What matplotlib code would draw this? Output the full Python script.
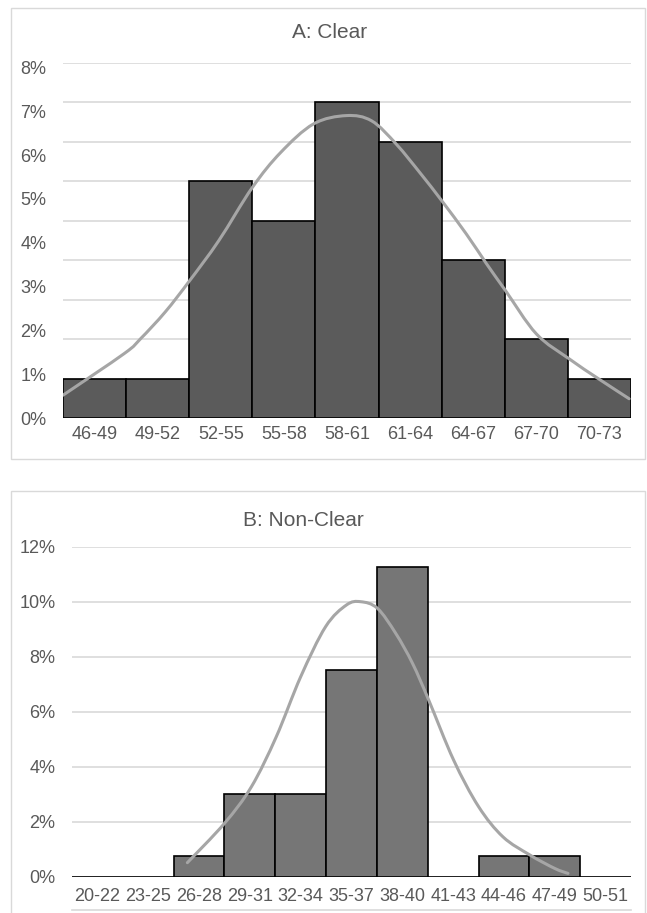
import matplotlib
matplotlib.use("Agg")
import matplotlib.pyplot as plt
from matplotlib.patches import Rectangle, PathPatch
from matplotlib.path import Path

plt.rcParams['font.family'] = ['Liberation Sans', 'DejaVu Sans']

# ---------------- data ----------------
cats_a = ["46-49", "49-52", "52-55", "55-58", "58-61", "61-64", "64-67", "67-70", "70-73"]
vals_a = [0.9, 0.9, 5.4, 4.5, 7.2, 6.3, 3.6, 1.8, 0.9]          # percent
curve_a_x = [-0.5, 0.47, 0.73, 1.12, 1.51, 1.97, 2.50, 2.95, 3.47,
             3.99, 4.39, 4.78, 5.17, 5.50, 5.89, 6.21, 6.51, 7.0, 7.52, 7.98, 8.47]
curve_a_y = [0.52, 1.47, 1.81, 2.42, 3.14, 4.05, 5.26, 6.06, 6.71,
             6.90, 6.78, 6.25, 5.57, 4.96, 4.20, 3.52, 2.91, 1.92, 1.35, 0.90, 0.44]
yticks_a = [0, 1, 2, 3, 4, 5, 6, 7, 8]

cats_b = ["20-22", "23-25", "26-28", "29-31", "32-34", "35-37", "38-40",
          "41-43", "44-46", "47-49", "50-51"]
vals_b = [0, 0, 0.75, 3.0, 3.0, 7.5, 11.25, 0, 0.75, 0.75, 0]     # percent
curve_b_x = [1.77, 2.50, 3.03, 3.52, 4.00, 4.49, 4.90, 5.18, 5.51, 5.87,
             6.20, 6.52, 7.01, 7.50, 7.98, 8.51, 9.00, 9.26]
curve_b_y = [0.51, 1.94, 3.27, 5.09, 7.27, 9.09, 9.88, 10.0, 9.76, 8.85,
             7.76, 6.42, 4.24, 2.55, 1.45, 0.79, 0.30, 0.12]
yticks_b = [0, 2, 4, 6, 8, 10, 12]

W, H = 647, 913
fig = plt.figure(figsize=(W / 100, H / 100), dpi=100)

TXT = "#595959"
GRID = "#d9d9d9"
CURVE = "#a6a6a6"


def px_axes(left, right, top, bottom):
    return fig.add_axes([left / W, (H - bottom) / H, (right - left) / W, (bottom - top) / H])


def smooth_line(ax, xs, ys, **kw):
    """Draw a smooth (Catmull-Rom style Bezier) line through the given points."""
    pts = list(zip(xs, ys))
    n = len(pts)
    verts = [pts[0]]
    codes = [Path.MOVETO]
    for i in range(n - 1):
        p0 = pts[i - 1] if i > 0 else pts[i]
        p1 = pts[i]
        p2 = pts[i + 1]
        p3 = pts[i + 2] if i + 2 < n else pts[i + 1]
        c1 = (p1[0] + (p2[0] - p0[0]) / 6, p1[1] + (p2[1] - p0[1]) / 6)
        c2 = (p2[0] - (p3[0] - p1[0]) / 6, p2[1] - (p3[1] - p1[1]) / 6)
        verts += [c1, c2, p2]
        codes += [Path.CURVE4, Path.CURVE4, Path.CURVE4]
    patch = PathPatch(Path(verts, codes), fill=False, **kw)
    ax.add_patch(patch)


# chart frames
fig.patches.append(Rectangle((11 / W, (H - 459) / H), (645 - 11) / W, (459 - 8) / H,
                             transform=fig.transFigure, fill=False, edgecolor=GRID, lw=1))
fig.patches.append(Rectangle((11 / W, (H - 920) / H), (645 - 11) / W, (920 - 491) / H,
                             transform=fig.transFigure, fill=False, edgecolor=GRID, lw=1))

# ---------------- panel A ----------------
axA = px_axes(63, 631, 63, 418)
xa = list(range(len(cats_a)))
for k in range(1, 10):
    axA.axhline(0.9 * k, color=GRID, lw=1.2, zorder=0)
axA.bar(xa, vals_a, width=1.0, color="#5b5b5b", edgecolor="black", lw=1.2, zorder=2)
smooth_line(axA, curve_a_x, curve_a_y, edgecolor=CURVE, lw=2.2, zorder=3, capstyle="round")
axA.set_xlim(-0.5, len(cats_a) - 0.5)
axA.set_ylim(0, 8.1)
axA.set_yticks(yticks_a)
axA.set_yticklabels([f"{v}%" for v in yticks_a])
axA.set_xticks(xa)
axA.set_xticklabels(cats_a)
axA.tick_params(length=0, labelsize=13, colors=TXT, pad=6)
axA.tick_params(axis="y", pad=12)
for s in axA.spines.values():
    s.set_visible(False)
fig.text(330 / W, 1 - 32 / H, "A: Clear", ha="center", va="center", fontsize=15, color=TXT)

# ---------------- panel B ----------------
axB = px_axes(72, 631, 546.7, 876.7)
xb = list(range(len(cats_b)))
axB.grid(axis="y", color=GRID, lw=1.2, zorder=0)
axB.set_axisbelow(True)
axB.bar(xb, vals_b, width=1.0, color="#767676", edgecolor="black", lw=1.2, zorder=2)
smooth_line(axB, curve_b_x, curve_b_y, edgecolor=CURVE, lw=2.2, zorder=3, capstyle="round")
axB.set_xlim(-0.5, len(cats_b) - 0.5)
axB.set_ylim(0, 12)
axB.set_yticks(yticks_b)
axB.set_yticklabels([f"{v}%" for v in yticks_b])
axB.set_xticks(xb)
axB.set_xticklabels(cats_b)
axB.tick_params(length=0, labelsize=13, colors=TXT, pad=8)
axB.tick_params(axis="y", pad=12)
for s in axB.spines.values():
    s.set_visible(False)
axB.plot([0, 1], [-0.10, -0.10], transform=axB.transAxes, color=GRID, lw=1.2, clip_on=False)
fig.text(303 / W, 1 - 520 / H, "B: Non-Clear", ha="center", va="center", fontsize=15, color=TXT)

fig.savefig("out.png", dpi=100)
